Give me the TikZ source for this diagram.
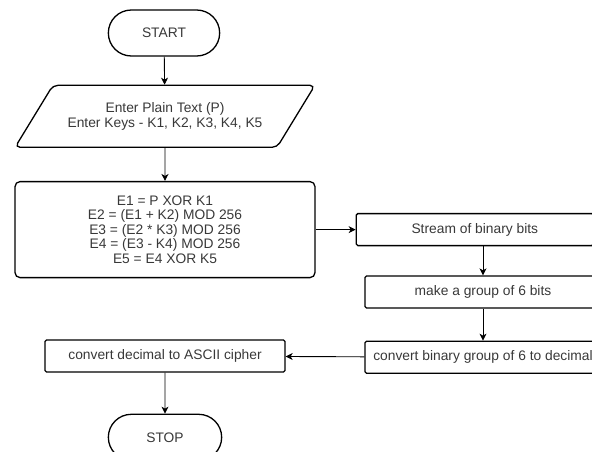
\documentclass[tikz,border=0pt]{standalone}
\usepackage{fontspec}
\setmainfont{Liberation Sans}
\usepackage{tikz}
\usetikzlibrary{arrows.meta,positioning,shapes.geometric,shapes.misc}
\tikzset{
  terminal/.style={
    draw,
    rounded rectangle,
    minimum width=118pt,
    minimum height=46pt,
    line width=1.3pt,
    fill=white
  },
  iobox/.style={
    draw,
    trapezium,
    trapezium left angle=45,
    trapezium right angle=135,
    trapezium stretches=true,
    minimum width=300pt,
    minimum height=62pt,
    rounded corners=5pt,
    line width=1.3pt,
    align=center
  },
  process/.style={
    draw,
    rounded corners=5pt,
    minimum width=300pt,
    minimum height=96pt,
    line width=1.3pt,
    align=center
  },
  stepbox/.style={
    draw,
    rounded corners=1.5pt,
    minimum height=32pt,
    line width=1.3pt,
    align=center,
    inner sep=2pt
  },
  link/.style={-{Stealth[length=7pt,width=7pt,inset=2pt]},line width=0.9pt}
}

\begin{document}
\begin{tikzpicture}[x=1pt,y=-1pt,node distance=28pt and 40pt,
  every node/.style={font=\fontsize{13.8}{14.5}\selectfont,text=black!78}]
  \useasboundingbox (0,0) rectangle (592,452);
  \clip (0,0) rectangle (592,452);
  \node[terminal] (start) at (164,33) {START};
  \node[iobox,below=28pt of start.south,anchor=north,xshift=1pt] (input) {
    Enter Plain Text (P)\\
    Enter Keys - K1, K2, K3, K4, K5
  };
  \node[process,below=33pt of input] (calc) {
    E1 = P XOR K1\\
    E2 = (E1 + K2) MOD 256\\
    E3 = (E2 * K3) MOD 256\\
    E4 = (E3 - K4) MOD 256\\
    E5 = E4 XOR K5
  };
  \node[stepbox,minimum width=237pt,right=40pt of calc] (stream) {Stream of binary bits};
  \node[stepbox,minimum width=236pt] (group) at (483,292) {make a group of 6 bits};
  \node[stepbox,minimum width=236pt,below=32pt of group] (todec) {convert binary group of 6 to decimal};
  \node[stepbox,minimum width=240pt] (toascii) at (165,356) {convert decimal to ASCII cipher};
  \node[terminal,minimum width=120pt,below=41pt of toascii] (stop) {STOP};
  \draw[link] (start) -- (input);
  \draw[link] (input) -- (calc);
  \draw[link] (calc) -- (stream);
  \draw[link] (group.north |- stream.south) -- (group);
  \draw[link] (group) -- (todec);
  \draw[link] (todec) -- (toascii);
  \draw[link] (toascii) -- (stop);
\end{tikzpicture}
\end{document}
